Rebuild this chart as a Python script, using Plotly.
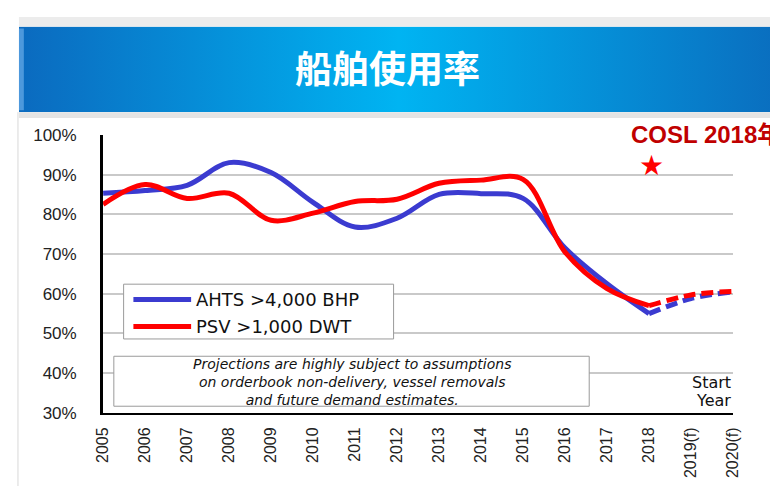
import plotly.graph_objects as go

# data
years = list(range(2005, 2021))
year_labels = [str(y) for y in range(2005, 2019)] + ["2019(f)", "2020(f)"]
ahts = [85.3, 86.0, 87.3, 93.0, 90.5, 83.0, 76.8, 79.0, 85.0, 85.2, 84.0, 71.5, 62.5, 55.0, 58.8, 60.5]
psv = [82.5, 87.5, 84.0, 85.3, 78.5, 80.3, 83.2, 83.8, 87.8, 88.6, 88.8, 70.5, 61.3, 57.0, 59.7, 60.6]
y_ticks = [30, 40, 50, 60, 70, 80, 90, 100]
y_labels = [f"{v}%" for v in y_ticks]
last_actual = years.index(2018)

BLUE = "#3b3bd0"
RED = "#ff0000"
W, H = 778, 488
OFF = 8  # the page body adds an 8px margin


def px(x):
    return (x - OFF) / W


def py(y):
    return 1 - (y - OFF) / H


fig = go.Figure()

# banner with horizontal gradient, on its own hidden axes
fig.add_trace(go.Scatter(
    x=[0, 1, 1, 0], y=[0, 0, 1, 1],
    fill="toself", mode="lines", line=dict(width=0),
    fillgradient=dict(type="horizontal",
                      colorscale=[[0, "#0b6abf"], [0.5, "#00b4f2"], [1, "#0a6ebf"]]),
    xaxis="x2", yaxis="y2", hoverinfo="skip", showlegend=False,
))

for values, color in [(ahts, BLUE), (psv, RED)]:
    fig.add_trace(go.Scatter(
        x=years[:last_actual + 1], y=values[:last_actual + 1],
        mode="lines", line=dict(color=color, width=5, shape="spline"),
        showlegend=False, hoverinfo="skip",
    ))
    fig.add_trace(go.Scatter(
        x=years[last_actual:], y=values[last_actual:],
        mode="lines", line=dict(color=color, width=5, shape="spline", dash="12px,6px"),
        showlegend=False, hoverinfo="skip",
    ))

shapes = [
    # header strips
    dict(type="rect", xref="paper", yref="paper", x0=px(10), x1=1, y0=py(18), y1=py(8),
         fillcolor="#ececec", line=dict(width=0)),
    dict(type="rect", xref="paper", yref="paper", x0=px(10), x1=1, y0=py(113), y1=py(107),
         fillcolor="#e4e4e4", line=dict(width=0)),
    dict(type="rect", xref="paper", yref="paper", x0=px(10), x1=px(15), y0=py(105), y1=py(20),
         fillcolor="#4d98dc", line=dict(width=0)),
    dict(type="line", xref="paper", yref="paper", x0=px(9), x1=px(9), y0=py(107), y1=0,
         line=dict(color="#d8d8d8", width=1)),
    # legend box
    dict(type="rect", xref="paper", yref="paper", x0=px(117), x1=px(393), y0=py(343), y1=py(286),
         fillcolor="white", line=dict(color="#9a9a9a", width=1)),
    dict(type="line", xref="paper", yref="paper", x0=px(127), x1=px(186), y0=py(302), y1=py(302),
         line=dict(color=BLUE, width=5)),
    dict(type="line", xref="paper", yref="paper", x0=px(127), x1=px(186), y0=py(330), y1=py(330),
         line=dict(color=RED, width=5)),
    # note box
    dict(type="rect", xref="paper", yref="paper", x0=px(107), x1=px(593), y0=py(413), y1=py(361),
         fillcolor="white", line=dict(color="#9a9a9a", width=1)),
]


def label(text, x, y, size, color="#111111", family="DejaVu Sans", xanchor="center"):
    return dict(text=text, x=px(x), y=py(y), xref="paper", yref="paper",
                xanchor=xanchor, yanchor="middle", showarrow=False,
                font=dict(family=family, size=size, color=color))


annotations = [
    label("<b>船舶使用率</b>", 387, 60, 37, "white", "Noto Sans CJK SC"),
    label("<b>COSL 2018年</b>", 634, 130, 24, "#c00000",
          "Liberation Sans, Noto Sans CJK SC", "left"),
    label("★", 657, 163, 28, RED),
    label("AHTS >4,000 BHP", 189, 302, 18, xanchor="left"),
    label("PSV >1,000 DWT", 189, 330, 18, xanchor="left"),
    label("Start", 740, 388, 16, xanchor="right"),
    label("Year", 740, 407, 16, xanchor="right"),
    label("<i>Projections are highly subject to assumptions<br>"
          "on orderbook non-delivery, vessel removals<br>"
          "and future demand estimates.</i>", 350, 388, 14),
]

fig.update_layout(
    width=W, height=H,
    margin=dict(l=0, r=0, t=0, b=0),
    paper_bgcolor="white",
    plot_bgcolor="white",
    font=dict(family="Liberation Sans, Arial", color="#222222"),
    showlegend=False,
    shapes=shapes,
    annotations=annotations,
    xaxis=dict(
        domain=[px(96), px(740)],
        range=[2005, 2020],
        tickmode="array", tickvals=years, ticktext=year_labels,
        tickangle=-90, ticks="", showgrid=False, zeroline=False,
        showline=True, linecolor="black", linewidth=2,
        tickfont=dict(size=16, color="#222222"),
        ticklabelstandoff=6,
    ),
    yaxis=dict(
        domain=[py(420), py(130.6)],
        range=[30, 100],
        tickmode="array", tickvals=y_ticks, ticktext=y_labels,
        ticks="", showgrid=True, gridcolor="#c9c9c9", gridwidth=2, zeroline=False,
        showline=True, linecolor="black", linewidth=3,
        tickfont=dict(size=17, color="#222222"),
        ticklabelstandoff=20,
    ),
    xaxis2=dict(domain=[px(10), 1], range=[0, 1], visible=False, fixedrange=True),
    yaxis2=dict(domain=[py(107), py(18)], range=[0, 1], visible=False, fixedrange=True,
                anchor="x2"),
)

fig.write_html("out.html")
